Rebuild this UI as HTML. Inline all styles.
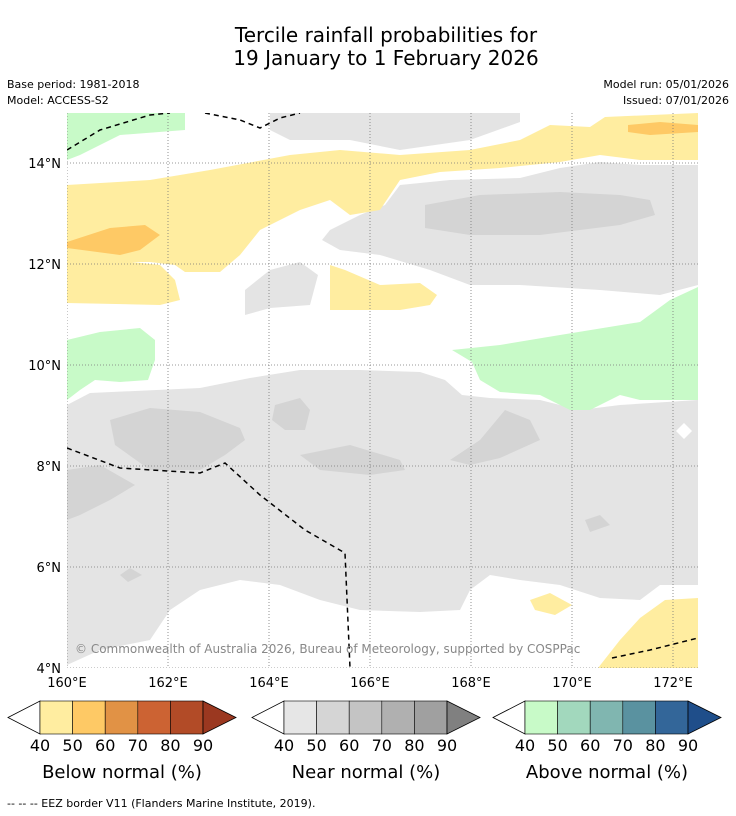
<!DOCTYPE html>
<html><head><meta charset="utf-8"><style>
body{margin:0;background:#fff;width:736px;height:816px;overflow:hidden;font-family:"DejaVu Sans","Liberation Sans",sans-serif}
svg{display:block;font-family:"DejaVu Sans","Liberation Sans",sans-serif}
</style></head><body>
<svg width="736" height="816" viewBox="0 0 736 816">
<text x="386" y="42" font-size="20" text-anchor="middle">Tercile rainfall probabilities for</text>
<text x="386" y="65" font-size="20" text-anchor="middle">19 January to 1 February 2026</text>
<text x="7" y="88" font-size="11">Base period: 1981-2018</text>
<text x="7" y="104" font-size="11">Model: ACCESS-S2</text>
<text x="729" y="88" font-size="11" text-anchor="end">Model run: 05/01/2026</text>
<text x="729" y="104" font-size="11" text-anchor="end">Issued: 07/01/2026</text>
<defs><clipPath id="mc"><rect x="67" y="113" width="631" height="555"/></clipPath></defs>
<g clip-path="url(#mc)">
<rect x="67" y="113" width="631" height="555" fill="#fff"/>
<g fill="#e4e4e4">
<polygon points="270,113 520,113 520,122 470,140 400,150 350,140 290,140 270,130"/>
<polygon points="330,230 360,215 385,205 400,185 450,180 520,178 560,168 600,162 640,165 698,165 698,285 660,295 600,290 520,285 470,285 430,270 380,255 340,250 322,240"/>
<polygon points="245,290 270,270 300,262 318,275 310,305 270,308 245,315"/>
<polygon points="67,405 90,393 200,388 250,378 300,370 360,370 420,372 445,380 462,395 490,398 540,400 580,410 620,405 698,400 698,585 660,585 640,600 600,598 560,585 520,580 490,575 470,590 460,610 420,612 360,610 320,600 280,585 240,580 200,590 170,610 160,625 150,640 100,650 67,665"/>
</g>
<polygon points="684,423 692,431 684,439 676,431" fill="#fff"/>
<g fill="#d4d4d4">
<polygon points="425,205 480,195 560,192 620,195 650,200 655,215 620,225 540,235 470,235 425,228"/>
<polygon points="110,420 150,408 200,412 240,428 245,440 225,455 200,470 150,470 115,445"/>
<polygon points="275,405 300,398 310,410 305,430 285,430 272,420"/>
<polygon points="300,455 350,445 400,460 405,470 370,475 320,470"/>
<polygon points="450,460 480,440 505,410 530,420 540,440 500,458 470,465"/>
<polygon points="67,470 100,465 135,485 110,500 80,515 67,520"/>
<polygon points="585,520 600,515 610,525 590,532"/>
<polygon points="120,575 130,568 142,575 128,582"/>
</g>
<g fill="#ffeda0">
<polygon points="67,185 150,180 210,170 290,155 340,150 400,155 470,150 520,140 550,125 590,127 605,117 698,113 698,160 640,160 600,155 560,162 500,168 440,172 400,180 380,210 350,215 330,200 300,210 260,230 240,255 220,272 185,272 175,265 150,262 110,262 67,255"/>
<polygon points="67,255 160,265 175,280 180,300 160,305 67,303"/>
<polygon points="330,265 345,270 380,285 420,283 437,295 430,305 400,310 330,310"/>
<polygon points="598,668 620,640 640,618 665,600 698,598 698,668"/>
<polygon points="530,600 550,593 572,605 555,615 535,610"/>
</g>
<g fill="#fec965">
<polygon points="67,242 110,228 145,225 160,235 140,250 120,255 67,248"/>
<polygon points="628,125 660,122 698,125 698,132 650,135 628,132"/>
</g>
<g fill="#c8fac8">
<polygon points="67,113 185,113 185,130 120,135 80,155 67,160"/>
<polygon points="67,340 100,332 140,328 155,340 155,360 148,380 120,382 95,380 80,390 67,400"/>
<polygon points="452,350 500,345 560,335 640,322 670,300 698,287 698,400 640,400 620,395 590,410 570,410 540,395 500,392 480,380 472,362"/>
</g>
<g id="grid"></g>
<g fill="none" stroke="#000" stroke-width="1.5" stroke-dasharray="5,4">
<polyline points="67,150 100,130 150,115 170,113"/>
<polyline points="205,113 240,120 260,128 280,118 300,113"/>
<polyline points="67,448 120,468 200,473 225,463 260,495 305,530 345,553 350,668"/>
<polyline points="612,658 650,650 698,638"/>
</g>
<text x="75" y="653" font-size="12" fill="#888">© Commonwealth of Australia 2026, Bureau of Meteorology, supported by COSPPac</text>
</g>
<g id="ticks"></g>
<g id="cbars"></g>
<text x="7" y="807" font-size="11">--  --  -- EEZ border V11 (Flanders Marine Institute, 2019).</text>
</svg>
<script>
const lonTicks=[160,162,164,166,168,170,172];
const latTicks=[4,6,8,10,12,14];
const cbLabels=[40,50,60,70,80,90];
const cbTitles=["Below normal (%)","Near normal (%)","Above normal (%)"];
const cbColors=[["#ffeda0","#fec965","#e19245","#cc6333","#b24b27","#9b3820"],["#e6e6e6","#d5d5d5","#c4c4c4","#b0b0b0","#a0a0a0","#808080"],["#c8fac8","#a2d8bd","#80b6b0","#5a92a0","#336699","#1f4e8a"]];
const NS="http://www.w3.org/2000/svg";
const xs=l=>67+(l-160)*50.5, ys=l=>668-(l-4)*50.5;
function mk(t,a,p,txt){const e=document.createElementNS(NS,t);for(const k in a)e.setAttribute(k,a[k]);if(txt!=null)e.textContent=txt;p.appendChild(e);return e;}
const g=document.getElementById('grid'),tk=document.getElementById('ticks'),cb=document.getElementById('cbars');
lonTicks.forEach(l=>{const x=xs(l);
const ln=mk('line',{x1:x,x2:x,y1:113,y2:668,stroke:'#777','stroke-width':0.8,'stroke-dasharray':'1,2'},g);


const t=mk('text',{x:x,y:687,'font-size':13,'text-anchor':'middle'},tk,l+'°E');

});
latTicks.forEach(l=>{const y=ys(l);
const ln=mk('line',{x1:67,x2:698,y1:y,y2:y,stroke:'#777','stroke-width':0.8,'stroke-dasharray':'1,2'},g);


const t=mk('text',{x:61,y:y+5,'font-size':13,'text-anchor':'end'},tk,l+'°N');

});
const starts=[8,252,493];
starts.forEach((s,i)=>{const b0=s+32,w=32.6,y0=701,h=33;
const lt=mk('polygon',{points:`${s},${y0+h/2} ${b0},${y0} ${b0},${y0+h}`,fill:'#fff',stroke:'#000','stroke-width':0.8},cb);


for(let k=0;k<5;k++){const r=mk('rect',{x:b0+k*w,y:y0,width:w,height:h,fill:cbColors[i][k],stroke:'#000','stroke-width':0.6},cb);

}
const e=b0+5*w;
const rt=mk('polygon',{points:`${e},${y0} ${e+33},${y0+h/2} ${e},${y0+h}`,fill:cbColors[i][5],stroke:'#000','stroke-width':0.8},cb);


cbLabels.forEach((v,k)=>{const t=mk('text',{x:b0+k*w,y:751,'font-size':16,'text-anchor':'middle'},cb,v);

});
const tt=mk('text',{x:(s+e+33)/2,y:778,'font-size':18,'text-anchor':'middle'},cb,cbTitles[i]);

});
</script>
</body></html>
